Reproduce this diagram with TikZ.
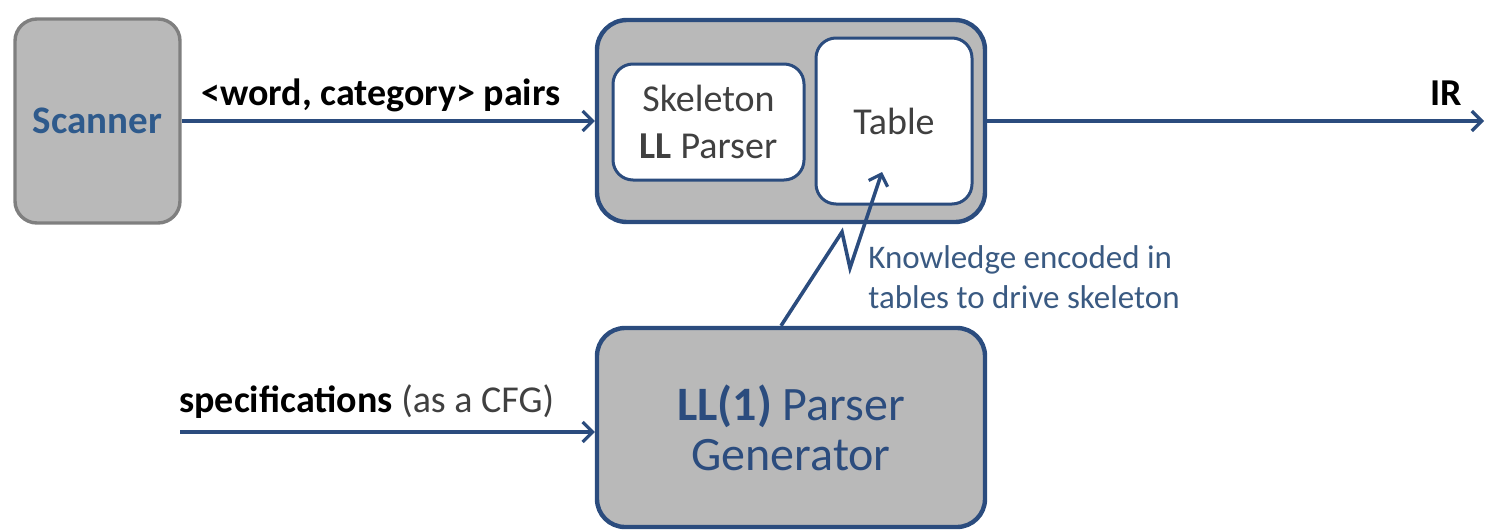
\documentclass[tikz,border=0pt]{standalone}
\usepackage{fontspec}
\setmainfont{Carlito}
\usetikzlibrary{arrows.meta,calc}
\definecolor{lineblue}{HTML}{2B4C7E}
\definecolor{boxgray}{HTML}{B9B9B9}
\definecolor{bordergray}{HTML}{7F7F7F}
\definecolor{scanblue}{HTML}{2E5A8C}
\definecolor{darktext}{HTML}{404040}
\definecolor{notetext}{HTML}{3A5A82}
\tikzset{
  graybox/.style={draw=bordergray, fill=boxgray, line width=1.7pt, rounded corners=11pt, inner sep=0pt},
  outerbox/.style={draw=lineblue, fill=boxgray, line width=2.2pt, rounded corners=15pt, inner sep=0pt},
  innerbox/.style={draw=lineblue, fill=white, line width=1.5pt, rounded corners=10pt, inner sep=0pt, align=center, text=darktext},
  conn/.style={draw=lineblue, line width=1.8pt, -{Straight Barb[length=5pt,width=10pt,line width=1.6pt]}},
  lbl/.style={inner sep=0pt, font=\fontsize{19}{22}\selectfont}
}
\begin{document}
\begin{tikzpicture}[x=0.5pt,y=-0.5pt]
\useasboundingbox (0,0) rectangle (1504,530);
% Scanner
\node[graybox, minimum width=82.5pt, minimum height=102pt, text=scanblue, font=\fontsize{19.5}{24}\selectfont\bfseries] (scan) at (97.5,121) {Scanner};
% Outer parser box
\node[outerbox, minimum width=194pt, minimum height=101pt] (outer) at (791,121) {};
\node[innerbox, minimum width=95.5pt, minimum height=58pt, font=\fontsize{19}{23.5}\selectfont] (skel) at (708.5,122) {Skeleton\\\textbf{LL} Parser};
\node[innerbox, minimum width=78pt, minimum height=83pt, font=\fontsize{19}{23}\selectfont] (tbl) at (894,121) {Table};
% LL(1) parser generator
\node[outerbox, rounded corners=14pt, minimum width=194pt, minimum height=99.5pt, align=center, text=lineblue, font=\fontsize{24}{24}\selectfont] (llgen) at (791,427.5) {\textbf{LL(1)} Parser\\[1pt]Generator};
% connectors
\coordinate (irend) at (1484,121);
\coordinate (specstart) at (180,432);
\draw[conn] (scan.east) -- (outer.west);
\draw[conn] (outer.east) -- (irend);
\draw[conn] (specstart) -- (specstart -| llgen.west);
\draw[conn, line join=miter] ([xshift=-5pt]llgen.north) -- (842,232) -- (850,268) -- ([shift={(-12,51)}]tbl.center);
% labels
\node[lbl, font=\fontsize{19}{22}\selectfont\bfseries] (lpairs) at (381,95) {<word, category> pairs};
\node[lbl, font=\fontsize{19}{22}\selectfont\bfseries] (lir) at (1446,93) {IR};
\node[lbl, anchor=west] (lspec) at (179,402) {\textbf{specifications} \textcolor{darktext}{(as a CFG)}};
\node[lbl, anchor=west, align=left, text=notetext, font=\fontsize{16.5}{20}\selectfont] (lnote) at (868,277) {Knowledge encoded in\\tables to drive skeleton};
\end{tikzpicture}
\end{document}
